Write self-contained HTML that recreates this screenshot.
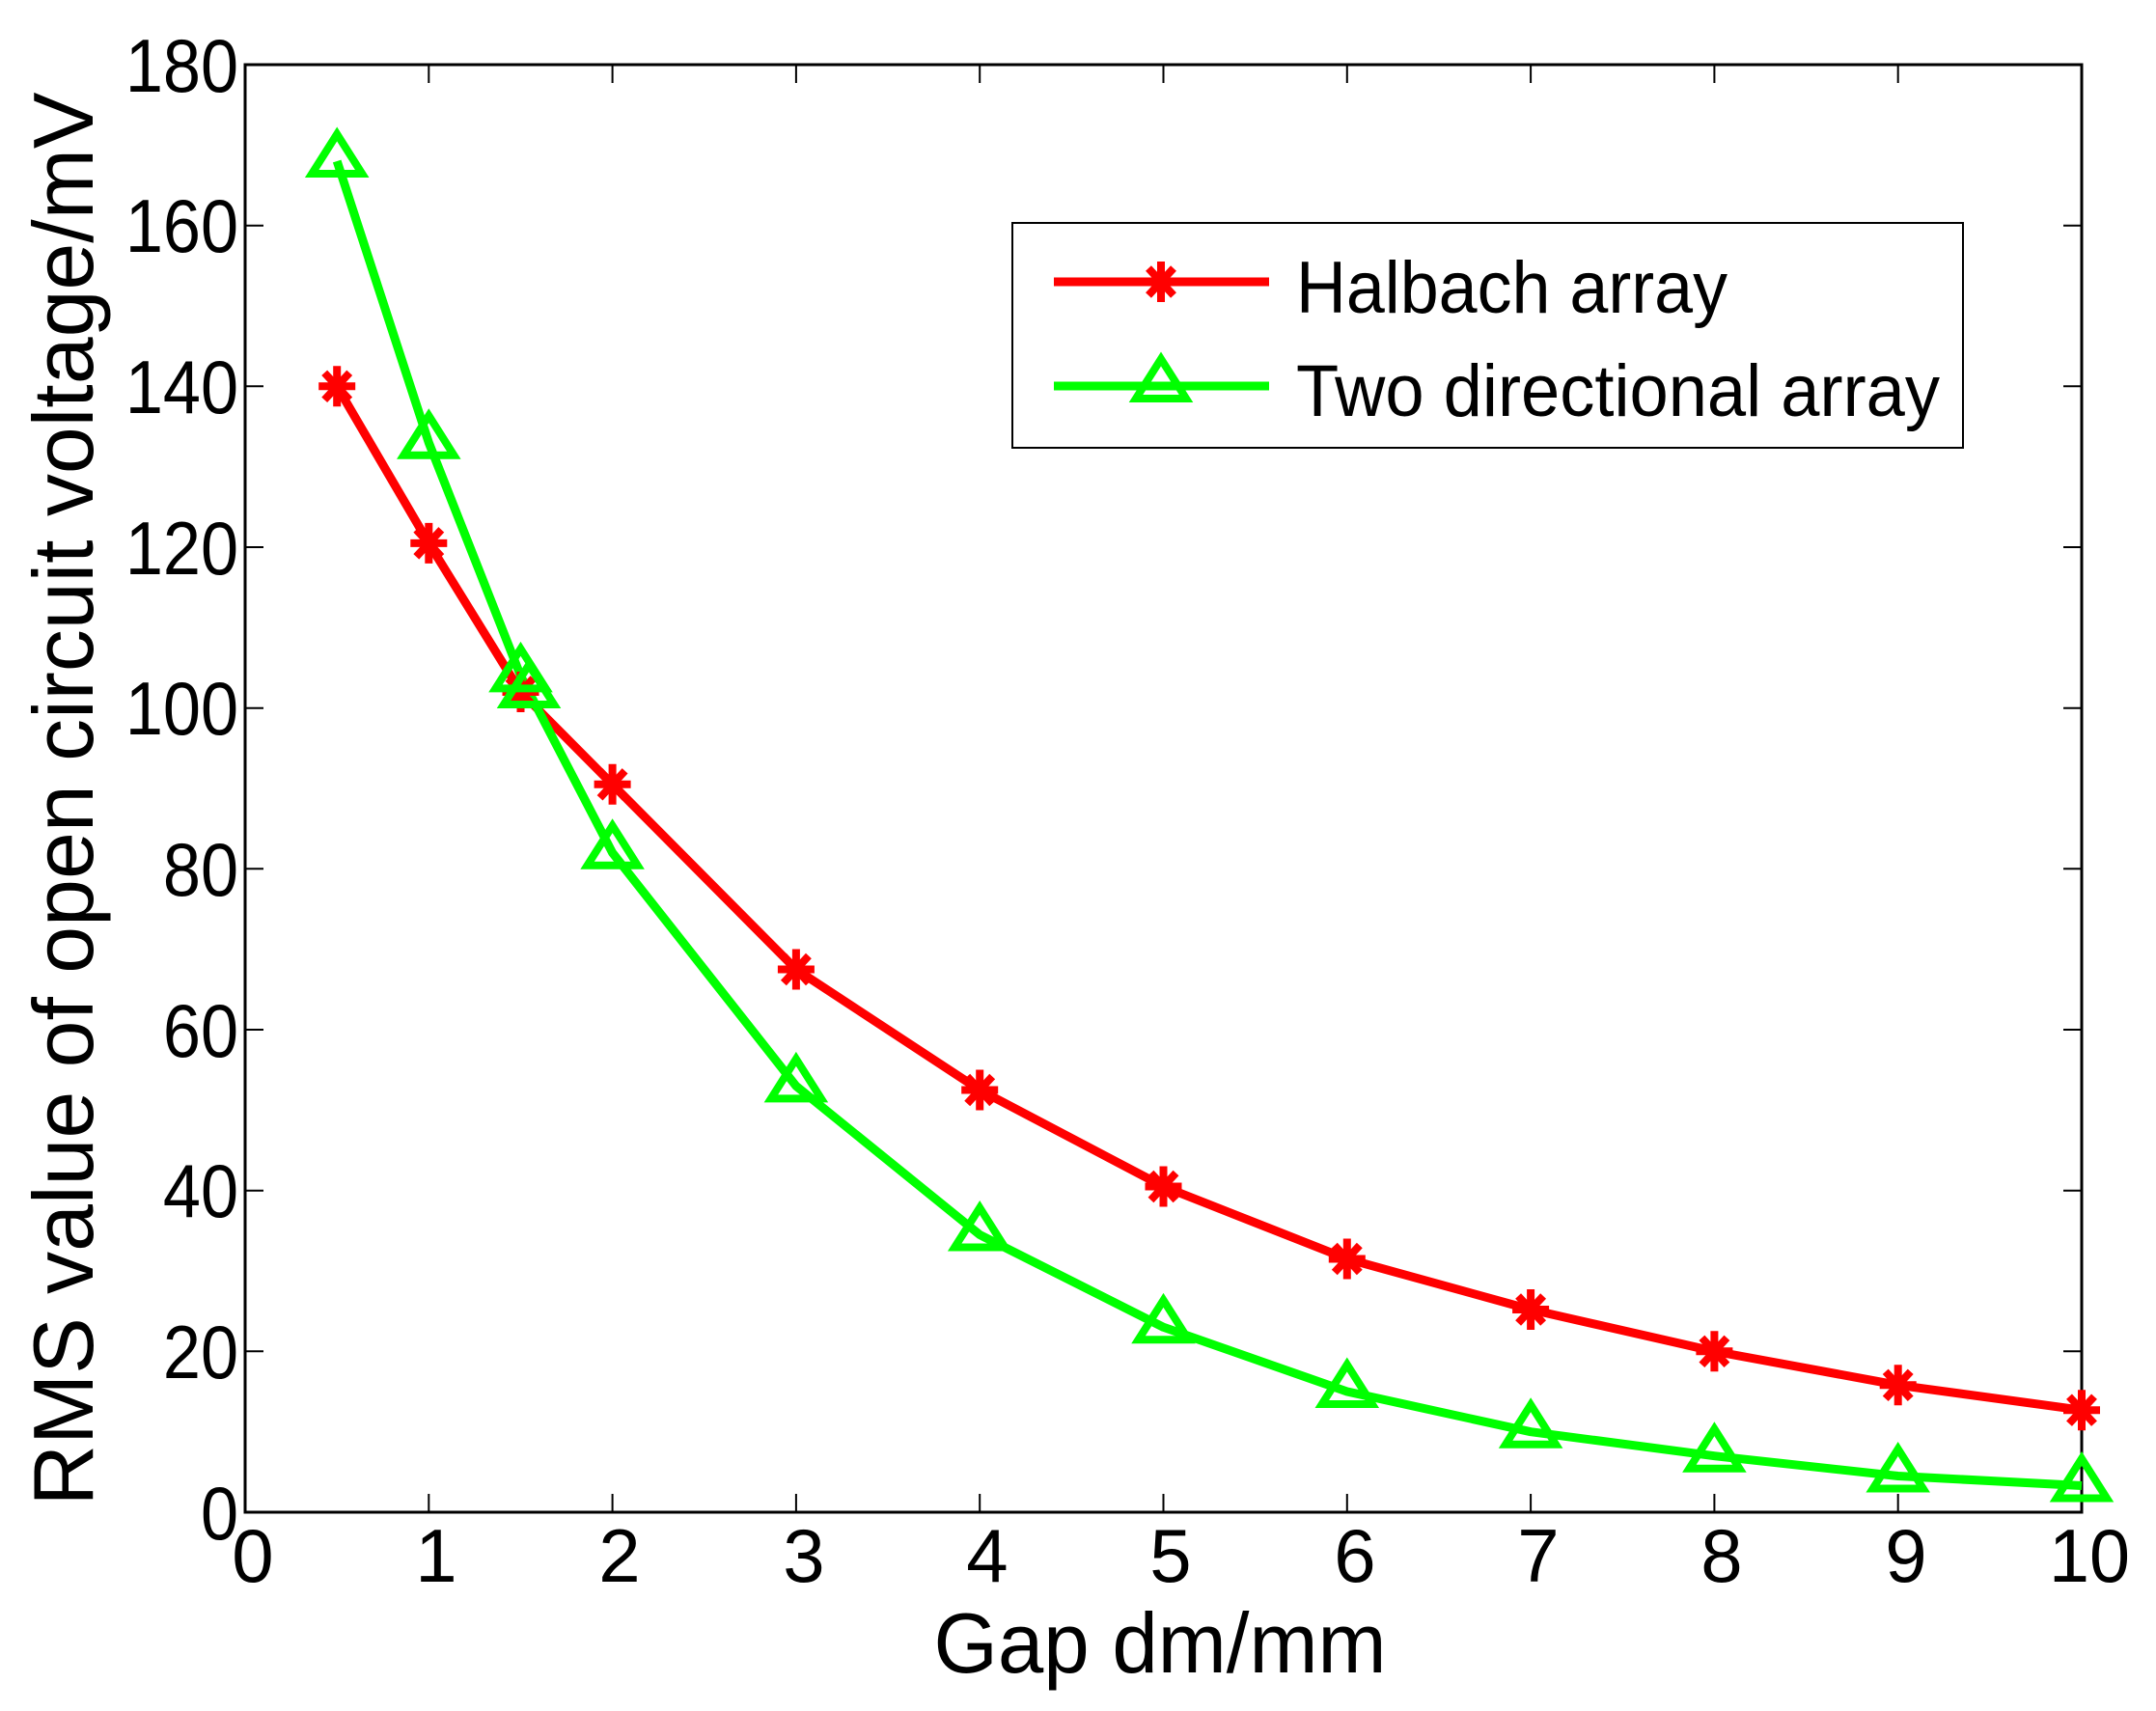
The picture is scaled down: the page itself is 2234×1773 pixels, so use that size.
<!DOCTYPE html>
<html><head><meta charset="utf-8"><style>html,body{margin:0;padding:0;background:#fff}svg{display:block}</style></head>
<body>
<svg width="2234" height="1773" viewBox="0 0 2234 1773" xmlns="http://www.w3.org/2000/svg" font-family="Liberation Sans, Arial, sans-serif">
<defs>
<g id="ast" stroke="#f00" stroke-width="8" fill="none">
<line x1="0" y1="-21" x2="0" y2="21"/><line x1="-19" y1="0" x2="19" y2="0"/>
<line x1="-13" y1="-14" x2="13" y2="14"/><line x1="-13" y1="14" x2="13" y2="-14"/>
</g>
<polygon id="tri" points="0,-28 26,13 -26,13" stroke="#0f0" stroke-width="8" fill="none"/>
</defs>
<rect x="254" y="67" width="1903" height="1500" fill="#fff" stroke="#000" stroke-width="3"/>
<g stroke="#000" stroke-width="2">
<line x1="444.3" y1="1567" x2="444.3" y2="1548"/><line x1="634.6" y1="1567" x2="634.6" y2="1548"/><line x1="824.9" y1="1567" x2="824.9" y2="1548"/><line x1="1015.2" y1="1567" x2="1015.2" y2="1548"/><line x1="1205.5" y1="1567" x2="1205.5" y2="1548"/><line x1="1395.8" y1="1567" x2="1395.8" y2="1548"/><line x1="1586.1" y1="1567" x2="1586.1" y2="1548"/><line x1="1776.4" y1="1567" x2="1776.4" y2="1548"/><line x1="1966.7" y1="1567" x2="1966.7" y2="1548"/>
<line x1="444.3" y1="67" x2="444.3" y2="86"/><line x1="634.6" y1="67" x2="634.6" y2="86"/><line x1="824.9" y1="67" x2="824.9" y2="86"/><line x1="1015.2" y1="67" x2="1015.2" y2="86"/><line x1="1205.5" y1="67" x2="1205.5" y2="86"/><line x1="1395.8" y1="67" x2="1395.8" y2="86"/><line x1="1586.1" y1="67" x2="1586.1" y2="86"/><line x1="1776.4" y1="67" x2="1776.4" y2="86"/><line x1="1966.7" y1="67" x2="1966.7" y2="86"/>
<line x1="254" y1="1400.3" x2="273" y2="1400.3"/><line x1="254" y1="1233.7" x2="273" y2="1233.7"/><line x1="254" y1="1067" x2="273" y2="1067"/><line x1="254" y1="900.3" x2="273" y2="900.3"/><line x1="254" y1="733.7" x2="273" y2="733.7"/><line x1="254" y1="567" x2="273" y2="567"/><line x1="254" y1="400.3" x2="273" y2="400.3"/><line x1="254" y1="233.7" x2="273" y2="233.7"/>
<line x1="2157" y1="1400.3" x2="2138" y2="1400.3"/><line x1="2157" y1="1233.7" x2="2138" y2="1233.7"/><line x1="2157" y1="1067" x2="2138" y2="1067"/><line x1="2157" y1="900.3" x2="2138" y2="900.3"/><line x1="2157" y1="733.7" x2="2138" y2="733.7"/><line x1="2157" y1="567" x2="2138" y2="567"/><line x1="2157" y1="400.3" x2="2138" y2="400.3"/><line x1="2157" y1="233.7" x2="2138" y2="233.7"/>
</g>
<g font-size="78" text-anchor="end" fill="#000" transform="translate(247,0) scale(0.9,1) translate(-247,0)">
<text x="247" y="1595">0</text><text x="247" y="1428">20</text><text x="247" y="1261">40</text><text x="247" y="1095">60</text><text x="247" y="928">80</text><text x="247" y="761">100</text><text x="247" y="595">120</text><text x="247" y="428">140</text><text x="247" y="261">160</text><text x="247" y="95">180</text>
</g>
<g font-size="78" text-anchor="middle" fill="#000">
<text x="262" y="1639">0</text><text x="452" y="1639">1</text><text x="642" y="1639">2</text><text x="833" y="1639">3</text><text x="1023" y="1639">4</text><text x="1213" y="1639">5</text><text x="1404" y="1639">6</text><text x="1594" y="1639">7</text><text x="1784" y="1639">8</text><text x="1975" y="1639">9</text><text x="2165" y="1639" textLength="84" lengthAdjust="spacingAndGlyphs">10</text>
</g>
<text x="1202" y="1733" font-size="88" text-anchor="middle" textLength="469" lengthAdjust="spacingAndGlyphs">Gap dm/mm</text>
<text transform="translate(96,828) rotate(-90)" font-size="88" text-anchor="middle" textLength="1465" lengthAdjust="spacingAndGlyphs">RMS value of open circuit voltage/mV</text>
<polyline fill="none" stroke="#f00" stroke-width="9" stroke-linejoin="round" points="349.2,400.3 444.3,562.9 539.5,717 634.6,812.8 824.9,1004.5 1015.2,1129.5 1205.5,1229.5 1395.8,1304.5 1586.1,1357 1776.4,1400.3 1966.7,1435.3 2157,1461.2"/>
<polyline fill="none" stroke="#0f0" stroke-width="9" stroke-linejoin="round" points="349.2,167 444.3,458.7 539.5,700.4 548,717 634.6,883.7 824.9,1125.4 1015.2,1279.5 1205.5,1375.3 1395.8,1442 1586.1,1483.7 1776.4,1508.7 1966.7,1529.5 2157,1539.5"/>
<use href="#ast" x="349.2" y="400.3"/><use href="#ast" x="444.3" y="562.9"/><use href="#ast" x="539.5" y="717"/><use href="#ast" x="634.6" y="812.8"/><use href="#ast" x="824.9" y="1004.5"/><use href="#ast" x="1015.2" y="1129.5"/><use href="#ast" x="1205.5" y="1229.5"/><use href="#ast" x="1395.8" y="1304.5"/><use href="#ast" x="1586.1" y="1357"/><use href="#ast" x="1776.4" y="1400.3"/><use href="#ast" x="1966.7" y="1435.3"/><use href="#ast" x="2157" y="1461.2"/>
<use href="#tri" x="349.2" y="167"/><use href="#tri" x="444.3" y="458.7"/><use href="#tri" x="539.5" y="700.4"/><use href="#tri" x="548" y="717"/><use href="#tri" x="634.6" y="883.7"/><use href="#tri" x="824.9" y="1125.4"/><use href="#tri" x="1015.2" y="1279.5"/><use href="#tri" x="1205.5" y="1375.3"/><use href="#tri" x="1395.8" y="1442"/><use href="#tri" x="1586.1" y="1483.7"/><use href="#tri" x="1776.4" y="1508.7"/><use href="#tri" x="1966.7" y="1529.5"/><use href="#tri" x="2157" y="1539.5"/>
<rect x="1049" y="231" width="985" height="233" fill="#fff" stroke="#000" stroke-width="2"/>
<line x1="1092" y1="292" x2="1315" y2="292" stroke="#f00" stroke-width="9"/>
<use href="#ast" x="1203" y="292"/>
<line x1="1092" y1="400" x2="1315" y2="400" stroke="#0f0" stroke-width="9"/>
<use href="#tri" x="1203" y="400"/>
<text x="1343" y="324" font-size="76" textLength="447" lengthAdjust="spacingAndGlyphs">Halbach array</text>
<text x="1343" y="431" font-size="76" textLength="667" lengthAdjust="spacingAndGlyphs">Two directional array</text>
</svg>
</body></html>
